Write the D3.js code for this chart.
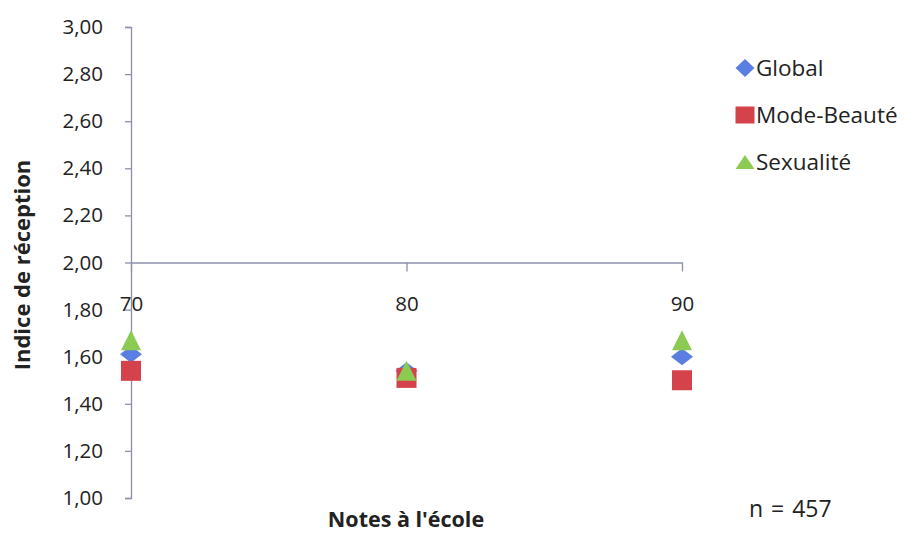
<!DOCTYPE html>
<html>
<head>
<meta charset="utf-8">
<script src="https://cdn.jsdelivr.net/npm/d3@7"></script>
<style>
  html, body { margin: 0; padding: 0; background: #fff; }
  svg { display: block; }
  svg text { font-family: "Open Sans", Lato, sans-serif; }
</style>
</head>
<body>
<svg id="chart" width="908" height="533"></svg>
<script>
// Grade groups on the x axis
const notes = [70, 80, 90];
// Reception index per series
const globalVals = [1.61, 1.54, 1.60];
const modeBeauteVals = [1.54, 1.51, 1.50];
const sexualiteVals = [1.67, 1.54, 1.67];
const seriesNames = ["Global", "Mode-Beauté", "Sexualité"];
const yTicks = [1.0, 1.2, 1.4, 1.6, 1.8, 2.0, 2.2, 2.4, 2.6, 2.8, 3.0];

const series = [
  { name: seriesNames[0], values: globalVals, shape: "diamond", color: "#5b7ee2" },
  { name: seriesNames[1], values: modeBeauteVals, shape: "square", color: "#d4424c" },
  { name: seriesNames[2], values: sexualiteVals, shape: "triangle", color: "#8ccb52" }
];

const svg = d3.select("#chart");
const axisColor = "#8c90ab";
const textColor = "#222";

const x = d3.scaleLinear().domain([70, 90]).range([131, 682]);
const y = d3.scaleLinear().domain([1, 3]).range([498, 27]);

const fmt = v => d3.format(".2f")(v).replace(".", ",");

// Vertical axis
const yAxis = svg.append("g")
  .attr("transform", `translate(${x(70)},0)`)
  .call(d3.axisLeft(y).tickValues(yTicks).tickFormat(fmt).tickSize(6).tickPadding(22));
yAxis.attr("font-family", null).attr("font-size", null);
yAxis.select(".domain").attr("stroke", axisColor).attr("stroke-width", 1.3);
yAxis.selectAll(".tick line").attr("stroke", axisColor).attr("stroke-width", 1.3);
yAxis.selectAll(".tick text").attr("fill", textColor).style("font-size", "20.5px");

// Horizontal axis crossing at 2,00
const xAxis = svg.append("g")
  .attr("transform", `translate(0,${y(2)})`)
  .call(d3.axisBottom(x).tickValues(notes).tickFormat(d3.format("d")).tickSize(9).tickSizeOuter(0).tickPadding(25));
xAxis.attr("font-family", null).attr("font-size", null);
xAxis.select(".domain").attr("stroke", axisColor).attr("stroke-width", 1.3);
xAxis.selectAll(".tick line").attr("stroke", axisColor).attr("stroke-width", 1.3);
xAxis.selectAll(".tick text").attr("fill", textColor).style("font-size", "20.5px");

// Marker shapes
function markerPath(shape, w, h) {
  if (shape === "diamond") return `M0,${-h/2}L${w/2},0L0,${h/2}L${-w/2},0Z`;
  if (shape === "square") return `M${-w/2},${-h/2}H${w/2}V${h/2}H${-w/2}Z`;
  return `M0,${-h/2}L${w/2},${h/2}H${-w/2}Z`;
}
const markerSize = { diamond: [22, 17], square: [20, 20], triangle: [20, 20] };
const legendSize = { diamond: [19, 18], square: [19, 17], triangle: [19, 14] };

series.forEach(s => {
  svg.append("g").selectAll("path")
    .data(s.values.map((v, i) => ({ x: notes[i], v })))
    .join("path")
    .attr("transform", d => `translate(${x(d.x)},${y(d.v)})`)
    .attr("d", markerPath(s.shape, ...markerSize[s.shape]))
    .attr("fill", s.color);
});

// Legend
const legend = svg.append("g").selectAll("g")
  .data(series)
  .join("g")
  .attr("transform", (d, i) => `translate(745,${68 + i * 47})`);
legend.append("path")
  .attr("d", d => markerPath(d.shape, ...legendSize[d.shape]))
  .attr("fill", d => d.color);
legend.append("text")
  .attr("x", 11)
  .attr("dy", "0.36em")
  .attr("fill", textColor)
  .style("font-size", "22.5px")
  .text(d => d.name);

// Axis titles and sample size
svg.append("text")
  .attr("transform", `translate(30,${265}) rotate(-90)`)
  .attr("text-anchor", "middle")
  .attr("fill", textColor)
  .style("font-size", "22px")
  .style("font-weight", "bold")
  .text("Indice de réception");

svg.append("text")
  .attr("x", 406)
  .attr("y", 527)
  .attr("text-anchor", "middle")
  .attr("fill", textColor)
  .style("font-size", "21.5px")
  .style("font-weight", "bold")
  .text("Notes à l'école");

svg.append("text")
  .attr("x", 749)
  .attr("y", 517)
  .attr("fill", textColor)
  .style("font-size", "23px")
  .style("word-spacing", "2px")
  .text("n = 457");
</script>
</body>
</html>
